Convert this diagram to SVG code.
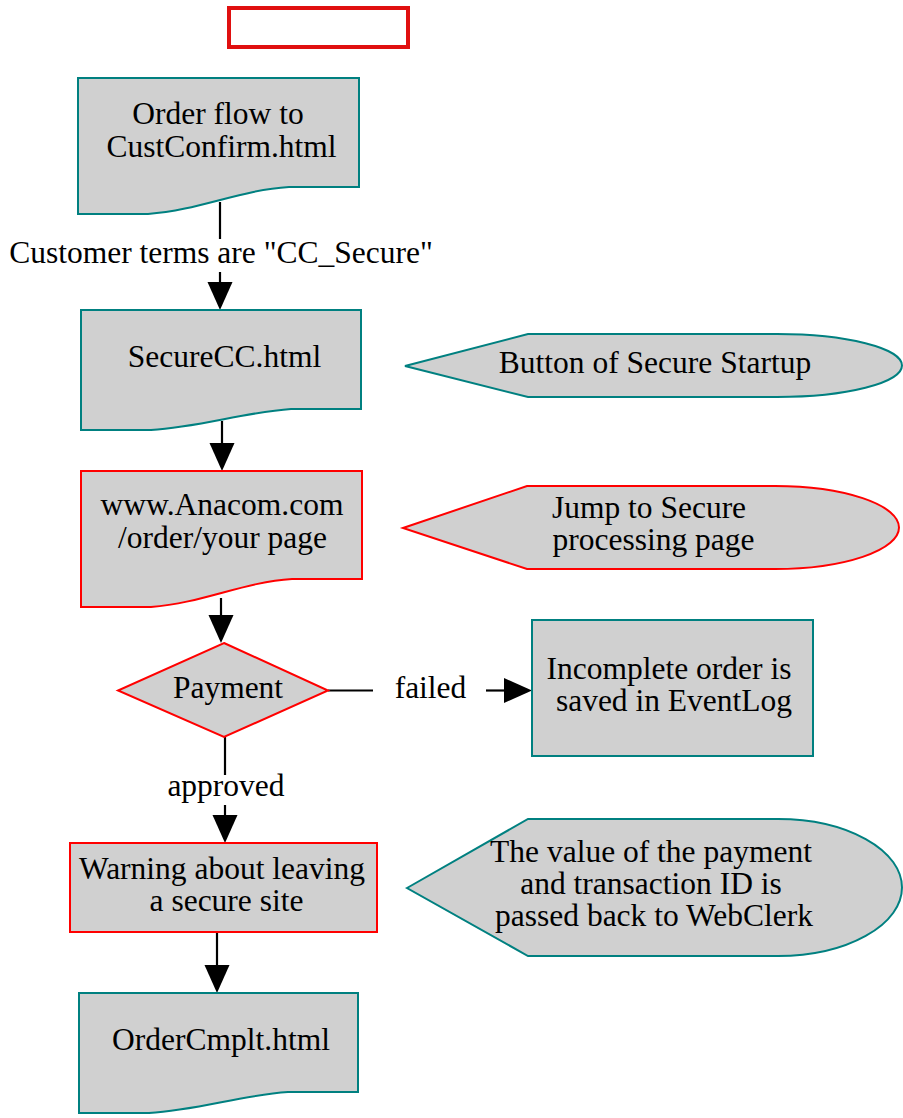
<svg xmlns="http://www.w3.org/2000/svg" width="903" height="1118" viewBox="0 0 903 1118">
  <style>
    .teal { fill: #d0d0d0; stroke: #008080; stroke-width: 2; }
    .red { fill: #d0d0d0; stroke: #ff0000; stroke-width: 2; }
    .lbl { font-family: "Liberation Serif", "Times New Roman", serif; font-size: 31.5px; fill: #000; text-anchor: middle; }
    .edge { stroke: #000; stroke-width: 2.2; fill: none; }
    .head { fill: #000; stroke: none; }
  </style>

  <!-- empty title frame -->
  <rect id="title-frame" x="229" y="8" width="179" height="39" fill="#fff" stroke="#e01010" stroke-width="4"/>

  <!-- connectors -->
  <g id="connectors">
    <g id="e-cust-secure">
      <line class="edge" x1="220" y1="202" x2="220" y2="239"/>
      <line class="edge" x1="220" y1="272" x2="220" y2="284"/>
      <polygon class="head" points="207.5,282 232.5,282 220,310"/>
      <text class="lbl" x="221" y="263">Customer terms are "CC_Secure"</text>
    </g>
    <g id="e-secure-anacom">
      <line class="edge" x1="222" y1="421" x2="222" y2="445"/>
      <polygon class="head" points="209.5,443 234.5,443 222,471"/>
    </g>
    <g id="e-anacom-payment">
      <line class="edge" x1="221" y1="598" x2="221" y2="617"/>
      <polygon class="head" points="208.5,615 233.5,615 221,643"/>
    </g>
    <g id="e-payment-failed">
      <line class="edge" x1="328" y1="690.5" x2="373" y2="690.5"/>
      <line class="edge" x1="486" y1="690.5" x2="506" y2="690.5"/>
      <polygon class="head" points="504,678 504,703 532,690.5"/>
      <text class="lbl" x="430.5" y="698">failed</text>
    </g>
    <g id="e-payment-approved">
      <line class="edge" x1="225" y1="737" x2="225" y2="775"/>
      <line class="edge" x1="225" y1="805" x2="225" y2="817"/>
      <polygon class="head" points="212.5,815 237.5,815 225,843"/>
      <text class="lbl" x="226" y="796">approved</text>
    </g>
    <g id="e-warning-complete">
      <line class="edge" x1="217" y1="932" x2="217" y2="967"/>
      <polygon class="head" points="204.5,965 229.5,965 217,993"/>
    </g>
  </g>

  <!-- page nodes -->
  <g id="n-custconfirm">
    <path class="teal" d="M78,78 H359 V187 H289 C240,190 200,210 148,214 H78 Z"/>
    <text class="lbl" x="218" y="124">Order flow to</text>
    <text class="lbl" x="221.5" y="157">CustConfirm.html</text>
  </g>

  <g id="n-securecc">
    <path class="teal" d="M81,310 H361 V409 H291 C245,412 200,427 151,430 H81 Z"/>
    <text class="lbl" x="224.5" y="367">SecureCC.html</text>
  </g>

  <g id="n-anacom">
    <path class="red" d="M81,471 H362 V579 H292 C243,582 203,603 151,607 H81 Z"/>
    <text class="lbl" x="222" y="515">www.Anacom.com</text>
    <text class="lbl" x="222.5" y="547.5">/order/your page</text>
  </g>

  <g id="n-payment">
    <polygon class="red" points="224,643 328,690.5 224,737 118,690.5"/>
    <text class="lbl" x="228" y="698">Payment</text>
  </g>

  <g id="n-eventlog">
    <rect class="teal" x="532" y="620" width="281" height="136"/>
    <text class="lbl" x="669" y="679">Incomplete order is</text>
    <text class="lbl" x="674" y="711">saved in EventLog</text>
  </g>

  <g id="n-warning">
    <rect class="red" x="70" y="843" width="307" height="89"/>
    <text class="lbl" x="222" y="879">Warning about leaving</text>
    <text class="lbl" x="226.5" y="911">a secure site</text>
  </g>

  <g id="n-ordercmplt">
    <path class="teal" d="M79,993 H358 V1092 H288 C242,1095 198,1110 149,1113 H79 Z"/>
    <text class="lbl" x="221" y="1050">OrderCmplt.html</text>
  </g>

  <!-- display notes -->
  <g id="d-button">
    <path class="teal" d="M405,366 L528,334 H777 A125,31.5 0 0 1 777,397 H528 Z"/>
    <text class="lbl" x="655" y="373">Button of Secure Startup</text>
  </g>

  <g id="d-jump">
    <path class="red" d="M403,528 L527,486 H775 A124,41.5 0 0 1 775,569 H527 Z"/>
    <text class="lbl" x="649" y="518">Jump to Secure</text>
    <text class="lbl" x="653.5" y="550">processing page</text>
  </g>

  <g id="d-value">
    <path class="teal" d="M407,888 L528,819 H778 A124,68.5 0 0 1 778,956 H528 Z"/>
    <text class="lbl" x="651" y="862">The value of the payment</text>
    <text class="lbl" x="651" y="894">and transaction ID is</text>
    <text class="lbl" x="654" y="926">passed back to WebClerk</text>
  </g>
</svg>
